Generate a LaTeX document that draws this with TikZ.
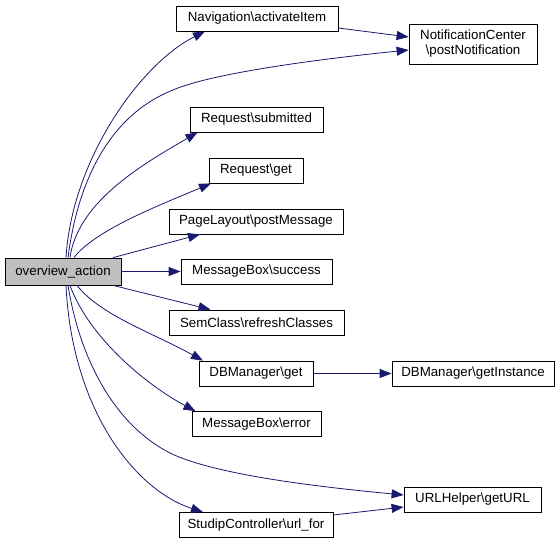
\documentclass[tikz,border=0pt]{standalone}
\usepackage{fontspec}
\setmainfont{Liberation Sans}
\usetikzlibrary{arrows.meta}
\definecolor{edgec}{HTML}{191970}
\definecolor{mainfill}{HTML}{BFBFBF}
\tikzset{
  fn/.style={draw=black, line width=0.8pt, fill=white, inner sep=0pt, minimum height=25pt, font=\fontsize{13.3}{15}\selectfont, anchor=center},
  mainfn/.style={fn, fill=mainfill, minimum height=27pt},
  call/.style={draw=edgec, line width=0.8pt, -{Triangle[length=12pt,width=9pt]}},
}
\begin{document}
\begin{tikzpicture}[x=1pt,y=-1pt]
\useasboundingbox (0,0) rectangle (560,544);
\node[mainfn, minimum width=116pt] (main) at (63,271.5) {overview\_action};
\node[fn, minimum width=162pt] (nav) at (257,18.5) {Navigation\textbackslash activateItem};
\node[fn, minimum width=128pt, minimum height=40pt, align=center] (notif) at (473,44) {NotificationCenter\\\textbackslash postNotification};
\node[fn, minimum width=133pt] (rsub) at (256.5,119.5) {Request\textbackslash submitted};
\node[fn, minimum width=94pt] (rget) at (256,170.5) {Request\textbackslash get};
\node[fn, minimum width=174pt] (plpm) at (256,221.5) {PageLayout\textbackslash postMessage};
\node[fn, minimum width=151pt] (mbs) at (256.5,271.5) {MessageBox\textbackslash success};
\node[fn, minimum width=175pt] (sem) at (256.5,322.5) {SemClass\textbackslash refreshClasses};
\node[fn, minimum width=114pt] (dbget) at (256,373.5) {DBManager\textbackslash get};
\node[fn, minimum width=162pt] (dbinst) at (473,373.5) {DBManager\textbackslash getInstance};
\node[fn, minimum width=129pt] (mbe) at (256.5,424) {MessageBox\textbackslash error};
\node[fn, minimum width=137pt] (url) at (472.5,499.5) {URLHelper\textbackslash getURL};
\node[fn, minimum width=154pt] (studip) at (256,525) {StudipController\textbackslash url\_for};

% edges
\draw[call] ([xshift=3pt]main.north) .. controls (72,160) and (140,64) .. ([xshift=-52pt]nav.south);
\draw[call] ([xshift=5pt]main.north) .. controls (78,180) and (110,115) .. (173,90) .. controls (215,72) and (330,58) .. ([yshift=-6pt]notif.west);
\draw[call] ([yshift=-9.5pt]nav.east) -- ([yshift=7pt]notif.west);
\draw[call] ([xshift=7pt]main.north) .. controls (78,200) and (147,162) .. ([xshift=-59pt]rsub.south);
\draw[call] ([xshift=11pt]main.north) .. controls (95,230) and (160,205) .. ([xshift=-45pt]rget.south);
\draw[call] ([xshift=50pt]main.north) -- ([xshift=-56pt]plpm.south);
\draw[call] (main.east) -- (mbs.west);
\draw[call] ([xshift=50pt]main.south) -- ([xshift=-46pt]sem.north);
\draw[call] ([xshift=14pt]main.south) .. controls (100,315) and (153,333) .. ([xshift=-53pt]dbget.north);
\draw[call] ([xshift=7pt]main.south) .. controls (90,340) and (150,387) .. ([xshift=-61pt]mbe.north);
\draw[call] ([xshift=5pt]main.south) .. controls (80,360) and (115,425) .. (170,453) .. controls (215,475) and (320,487) .. ([yshift=4.5pt]url.west);
\draw[call] ([xshift=3pt]main.south) .. controls (72,410) and (135,490) .. ([xshift=-53pt]studip.north);
\draw[call] (dbget.east) -- (dbinst.west);
\draw[call] ([yshift=10pt]studip.east) -- ([yshift=-7.5pt]url.west);
\end{tikzpicture}
\end{document}
